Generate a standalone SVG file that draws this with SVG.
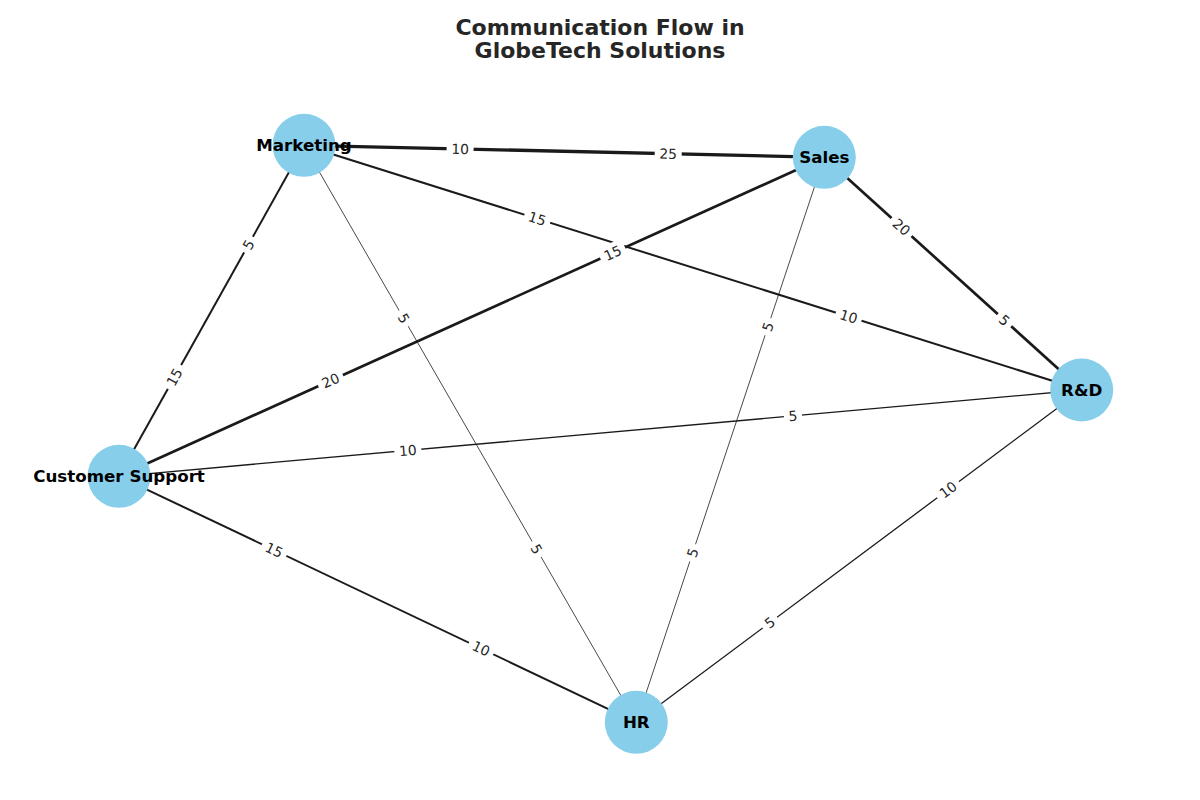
<svg xmlns="http://www.w3.org/2000/svg" width="1200" height="800" viewBox="0 0 1200 800">
<style>
.edge{stroke:#1a1a1a;fill:none;stroke-linecap:butt}
.lbl rect{fill:#ffffff;stroke:none}
.lbl text{font-family:"DejaVu Sans",sans-serif;font-size:13.9px;fill:#262626;text-anchor:middle;dominant-baseline:central}
.node circle{fill:#87CEEB}
.node text{font-family:"DejaVu Sans",sans-serif;font-size:16.7px;font-weight:bold;fill:#000000;text-anchor:middle;dominant-baseline:central}
.title{font-family:"DejaVu Sans",sans-serif;font-size:22px;font-weight:bold;fill:#262626;text-anchor:middle}
</style>
<rect width="1200" height="800" fill="#ffffff"/>
<text class="title" x="600" y="34.5">Communication Flow in</text>
<text class="title" x="600" y="57.5">GlobeTech Solutions</text>
<g id="connectors">
<line class="edge" x1="304" y1="145.3" x2="824.3" y2="157.3" stroke-width="3.3"/>
<line class="edge" x1="304" y1="145.3" x2="1081.7" y2="390" stroke-width="2"/>
<line class="edge" x1="119" y1="476.3" x2="304" y2="145.3" stroke-width="2"/>
<line class="edge" x1="304" y1="145.3" x2="636.3" y2="722.3" stroke-width="0.8"/>
<line class="edge" x1="119" y1="476.3" x2="824.3" y2="157.3" stroke-width="2.7"/>
<line class="edge" x1="824.3" y1="157.3" x2="1081.7" y2="390" stroke-width="2.7"/>
<line class="edge" x1="636.3" y1="722.3" x2="824.3" y2="157.3" stroke-width="0.8"/>
<line class="edge" x1="119" y1="476.3" x2="1081.7" y2="390" stroke-width="1.3"/>
<line class="edge" x1="636.3" y1="722.3" x2="1081.7" y2="390" stroke-width="1.3"/>
<line class="edge" x1="119" y1="476.3" x2="636.3" y2="722.3" stroke-width="2"/>
</g>
<g id="edge-labels">
<g class="lbl" transform="translate(460.1,148.9) rotate(1.32)"><rect x="-13.5" y="-10" width="27" height="20"/><text>10</text></g>
<g class="lbl" transform="translate(668.2,153.7) rotate(1.32)"><rect x="-13.5" y="-10" width="27" height="20"/><text>25</text></g>
<g class="lbl" transform="translate(537.3,218.7) rotate(17.47)"><rect x="-13.5" y="-10" width="27" height="20"/><text>15</text></g>
<g class="lbl" transform="translate(848.7,316.6) rotate(17.47)"><rect x="-13.5" y="-10" width="27" height="20"/><text>10</text></g>
<g class="lbl" transform="translate(174.5,377) rotate(-60.8)"><rect x="-13.5" y="-10" width="27" height="20"/><text>15</text></g>
<g class="lbl" transform="translate(248.5,244.6) rotate(-60.8)"><rect x="-9" y="-10" width="18" height="20"/><text>5</text></g>
<g class="lbl" transform="translate(403.7,318.4) rotate(60.06)"><rect x="-9" y="-10" width="18" height="20"/><text>5</text></g>
<g class="lbl" transform="translate(536.6,549.2) rotate(60.06)"><rect x="-9" y="-10" width="18" height="20"/><text>5</text></g>
<g class="lbl" transform="translate(330.6,380.6) rotate(-24.34)"><rect x="-13.5" y="-10" width="27" height="20"/><text>20</text></g>
<g class="lbl" transform="translate(612.7,253) rotate(-24.34)"><rect x="-13.5" y="-10" width="27" height="20"/><text>15</text></g>
<g class="lbl" transform="translate(901.5,227.1) rotate(42.1)"><rect x="-13.5" y="-10" width="27" height="20"/><text>20</text></g>
<g class="lbl" transform="translate(1004.5,320.2) rotate(42.1)"><rect x="-9" y="-10" width="18" height="20"/><text>5</text></g>
<g class="lbl" transform="translate(692.7,552.8) rotate(-71.6)"><rect x="-9" y="-10" width="18" height="20"/><text>5</text></g>
<g class="lbl" transform="translate(767.9,326.8) rotate(-71.6)"><rect x="-9" y="-10" width="18" height="20"/><text>5</text></g>
<g class="lbl" transform="translate(407.8,450.4) rotate(-5.12)"><rect x="-13.5" y="-10" width="27" height="20"/><text>10</text></g>
<g class="lbl" transform="translate(792.9,415.9) rotate(-5.12)"><rect x="-9" y="-10" width="18" height="20"/><text>5</text></g>
<g class="lbl" transform="translate(769.9,622.6) rotate(-36.72)"><rect x="-9" y="-10" width="18" height="20"/><text>5</text></g>
<g class="lbl" transform="translate(948.1,489.7) rotate(-36.72)"><rect x="-13.5" y="-10" width="27" height="20"/><text>10</text></g>
<g class="lbl" transform="translate(274.2,550.1) rotate(25.43)"><rect x="-13.5" y="-10" width="27" height="20"/><text>15</text></g>
<g class="lbl" transform="translate(481.1,648.5) rotate(25.43)"><rect x="-13.5" y="-10" width="27" height="20"/><text>10</text></g>
</g>
<g id="node-marketing" class="node"><circle cx="304" cy="145.3" r="31.5"/><text x="304" y="145.3">Marketing</text></g>
<g id="node-sales" class="node"><circle cx="824.3" cy="157.3" r="31.5"/><text x="824.3" y="157.3">Sales</text></g>
<g id="node-rd" class="node"><circle cx="1081.7" cy="390" r="31.5"/><text x="1081.7" y="390">R&amp;D</text></g>
<g id="node-customer-support" class="node"><circle cx="119" cy="476.3" r="31.5"/><text x="119" y="476.3">Customer Support</text></g>
<g id="node-hr" class="node"><circle cx="636.3" cy="722.3" r="31.5"/><text x="636.3" y="722.3">HR</text></g>
</svg>
